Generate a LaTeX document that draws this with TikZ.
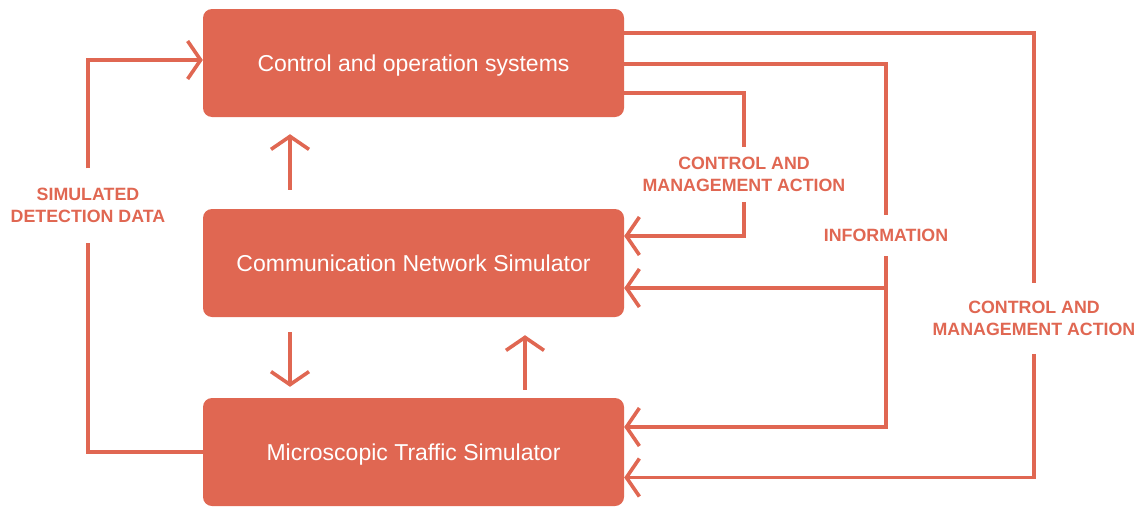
\documentclass[tikz,border=0pt]{standalone}
\usepackage{fontspec}
\setmainfont{Liberation Sans}
\usetikzlibrary{arrows.meta,positioning}
\definecolor{brick}{HTML}{E06752}

\begin{document}
\begin{tikzpicture}[x=1pt,y=-1pt,
  sysbox/.style={fill=brick,rounded corners=9pt,minimum width=421pt,minimum height=108pt,text depth=0pt,text=white,font=\fontsize{23}{27}\selectfont},
  tag/.style={text=brick,align=center,font=\bfseries\fontsize{17.8}{21.5}\selectfont,inner xsep=0pt},
  link/.style={draw=brick,line width=3.6pt},
  arr/.style={link,-{Straight Barb[length=13pt,width=38pt]}}]
\useasboundingbox (0,0) rectangle (1139,506);
\node[sysbox] (ctrl) at (413.5,63) {Control and operation systems};
\node[sysbox] (comm) at (413.5,263) {Communication Network Simulator};
\node[sysbox] (micro) at (413.5,452) {Microscopic Traffic Simulator};
\node[tag,inner ysep=20pt] (sdd) at (88,205.5) {SIMULATED\\DETECTION DATA};
\node[tag,inner ysep=10pt] (cma1) at (744,174.5) {CONTROL AND\\MANAGEMENT ACTION};
\node[tag,inner ysep=14pt] (info) at (886,235.5) {INFORMATION};
\node[tag,inner ysep=18pt] (cma2) at (1034,318.5) {CONTROL AND\\MANAGEMENT ACTION};
\path ([yshift=-25pt]comm.east) coordinate (commin);
% between the boxes
\draw[arr,shorten <=19pt,shorten >=17pt] ([xshift=-123.5pt]comm.north) -- ([xshift=-123.5pt]ctrl.south);
\draw[arr,shorten <=15pt,shorten >=11pt] ([xshift=-123.5pt]comm.south) -- ([xshift=-123.5pt]micro.north);
\draw[arr,shorten <=8pt,shorten >=18pt] ([xshift=111.5pt]micro.north) -- ([xshift=111.5pt]comm.south);
% detection data loop
\draw[link] (micro.west) -| (sdd.south);
\draw[arr] (sdd.north) |- ([yshift=3pt]ctrl.west);
% control and management action, inner
\draw[link] ([yshift=-30pt]ctrl.east) -| (cma1.north);
\draw[arr] (cma1.south) |- ([yshift=27pt]comm.east);
% information
\draw[link] ([yshift=-1pt]ctrl.east) -| (info.north);
\draw[arr] (info.south) |- ([yshift=25pt]micro.east);
\draw[arr] (info.south |- commin) -- (commin);
% control and management action, outer
\draw[link] ([yshift=30pt]ctrl.east) -| (cma2.north);
\draw[arr] (cma2.south) |- ([yshift=-25.5pt]micro.east);
\end{tikzpicture}
\end{document}
